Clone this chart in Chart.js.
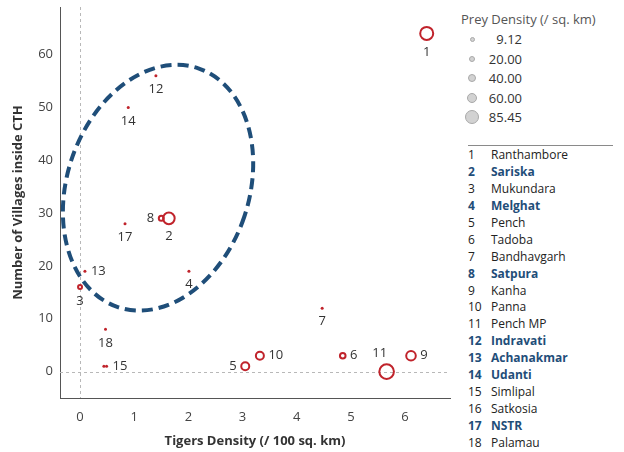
<!DOCTYPE html>
<html lang="en">
<head>
  <meta charset="UTF-8">
  <title>Tigers Density vs Villages inside CTH</title>
  <script src="https://cdn.jsdelivr.net/npm/chart.js"></script>
  <style>
    body {
      margin: 0;
      background: #fff;
      font-family: 'Open Sans', sans-serif;
    }
    .wrap {
      position: relative;
      width: 624px;
      height: 452px;
      overflow: hidden;
    }
    #chart {
      position: absolute;
      left: 0;
      top: 0;
    }
    .legend-title {
      position: absolute;
      left: 461px;
      top: 10px;
      font-size: 13px;
      line-height: 18px;
      color: #555;
      white-space: nowrap;
    }
    .size-dot {
      position: absolute;
      box-sizing: border-box;
      border-radius: 50%;
      background: #d2d2d2;
      border: 1px solid #a9a9a9;
    }
    .size-val {
      position: absolute;
      width: 60px;
      left: 462px;
      text-align: right;
      font-size: 13px;
      line-height: 18px;
      color: #333;
    }
    .rule {
      position: absolute;
      left: 468px;
      top: 145px;
      width: 145px;
      height: 1px;
      background: #8a8a8a;
    }
    .row {
      position: absolute;
      left: 468px;
      font-size: 12px;
      line-height: 16px;
      color: #222;
      white-space: nowrap;
    }
    .row span.num { display: inline-block; width: 23px; }
    .row.hl { color: #1f4e79; font-weight: bold; }
  </style>
</head>
<body>
  <div class="wrap" id="wrap">
    <canvas id="chart" width="455" height="452"></canvas>
    <div class="legend-title">Prey Density (/ sq. km)</div>
    <div class="rule"></div>
  </div>

  <script>
    // reserve numbers and names
    const ids = [1, 2, 3, 4, 5, 6, 7, 8, 9, 10, 11, 12, 13, 14, 15, 16, 17, 18];
    const names = ['Ranthambore', 'Sariska', 'Mukundara', 'Melghat', 'Pench', 'Tadoba',
      'Bandhavgarh', 'Satpura', 'Kanha', 'Panna', 'Pench MP', 'Indravati',
      'Achanakmar', 'Udanti', 'Simlipal', 'Satkosia', 'NSTR', 'Palamau'];
    const highlighted = [2, 4, 8, 12, 13, 14, 17];

    // values
    const tigerDensity = [6.40, 1.64, 0.00, 2.01, 3.05, 4.85, 4.47, 1.50, 6.11, 3.32, 5.66, 1.40, 0.09, 0.89, 0.49, 0.44, 0.83, 0.47];
    const villages = [64, 29, 16, 19, 1, 3, 12, 29, 3, 3, 0, 56, 19, 50, 1, 1, 28, 8];
    const preyDensity = [75.8, 67.3, 21.2, 12.5, 45.5, 30.9, 14.0, 27.3, 55.2, 45.5, 85.45, 9.12, 10.5, 9.5, 11.0, 9.8, 12.0, 10.0];

    const legendValues = [9.12, 20.00, 40.00, 60.00, 85.45];
    const xTicks = [0, 1, 2, 3, 4, 5, 6];
    const yTicks = [0, 10, 20, 30, 40, 50, 60];

    // where each number label sits relative to its mark
    const labelPos = ['below', 'below', 'below', 'below', 'left', 'right', 'below', 'left', 'right',
      'right', 'above', 'below', 'right', 'below', 'right', 'none', 'below', 'below'];

    const ringCenter = { x: 1.44, y: 34.8 };
    const RED = '#c0232b';
    const PMIN = 9.12, PMAX = 85.45;

    function radiusFor(v) {
      return Math.max(1.5, 1 + 6.3 * (v - PMIN) / (PMAX - PMIN));
    }

    Chart.defaults.font.family = "'Open Sans', sans-serif";
    Chart.defaults.font.size = 13;
    Chart.defaults.color = '#333';

    const extras = {
      id: 'extras',
      beforeDatasetsDraw(chart) {
        const { ctx, chartArea: a, scales: { x, y } } = chart;
        ctx.save();
        ctx.strokeStyle = '#b8b8b8';
        ctx.lineWidth = 1;
        ctx.setLineDash([3, 3]);
        const x0 = Math.round(x.getPixelForValue(0)) + 0.5;
        const y0 = Math.round(y.getPixelForValue(0)) + 0.5;
        ctx.beginPath();
        ctx.moveTo(x0, a.top);
        ctx.lineTo(x0, a.bottom);
        ctx.moveTo(a.left, y0);
        ctx.lineTo(a.right, y0);
        ctx.stroke();

        // dashed ellipse round the cluster
        ctx.setLineDash([11, 6]);
        ctx.lineWidth = 4;
        ctx.strokeStyle = '#1f4e79';
        ctx.beginPath();
        ctx.ellipse(x.getPixelForValue(ringCenter.x), y.getPixelForValue(ringCenter.y), 91, 126, 0.325, 0, Math.PI * 2);
        ctx.stroke();
        ctx.restore();
      },
      afterDatasetsDraw(chart) {
        const ctx = chart.ctx;
        const meta = chart.getDatasetMeta(0);
        ctx.save();
        ctx.font = "13px 'Open Sans', sans-serif";
        ctx.fillStyle = '#333';
        ctx.textBaseline = 'middle';
        meta.data.forEach((pt, i) => {
          const pos = labelPos[i];
          if (pos === 'none') return;
          const r = radiusFor(preyDensity[i]);
          let tx = pt.x, ty = pt.y;
          if (pos === 'below') { ctx.textAlign = 'center'; ty = pt.y + r + 12; }
          else if (pos === 'right') { ctx.textAlign = 'left'; tx = pt.x + r + 4.5; }
          else if (pos === 'left') { ctx.textAlign = 'right'; tx = pt.x - r - 4.5; }
          else if (pos === 'above') { ctx.textAlign = 'center'; tx = pt.x - 7; ty = pt.y - r - 11; }
          ctx.fillText(String(ids[i]), tx, ty);
        });
        ctx.restore();
      }
    };

    const points = tigerDensity.map((v, i) => ({ x: v, y: villages[i] }));

    new Chart(document.getElementById('chart'), {
      type: 'scatter',
      data: {
        datasets: [{
          data: points,
          pointRadius: c => radiusFor(preyDensity[c.dataIndex]),
          pointBorderWidth: c => radiusFor(preyDensity[c.dataIndex]) <= 1.6 ? 0 : 2,
          pointBorderColor: RED,
          pointBackgroundColor: c => radiusFor(preyDensity[c.dataIndex]) <= 1.6 ? RED : 'rgba(255,255,255,0)'
        }]
      },
      options: {
        responsive: false,
        devicePixelRatio: 1,
        animation: false,
        events: [],
        layout: { autoPadding: false, padding: { top: 7, right: 5, left: 0, bottom: 0 } },
        plugins: { legend: { display: false }, tooltip: { enabled: false } },
        scales: {
          x: {
            type: 'linear',
            min: -0.37,
            max: 6.83,
            grid: { display: false, drawTicks: false },
            border: { display: true, color: '#555', width: 1 },
            ticks: { color: '#444', padding: 11 },
            title: {
              display: true,
              text: 'Tigers Density (/ 100 sq. km)',
              color: '#333',
              font: { weight: 'bold', size: 13 },
              padding: { top: 4, bottom: 3 }
            },
            afterBuildTicks: s => { s.ticks = xTicks.map(v => ({ value: v })); },
            afterFit: s => {
              s.height = 54;
              s.paddingLeft = 0;
              s.paddingRight = 0;
            }
          },
          y: {
            type: 'linear',
            min: -5,
            max: 69,
            grid: { display: false, drawTicks: false },
            border: { display: true, color: '#555', width: 1 },
            ticks: { color: '#444', padding: 7 },
            title: {
              display: true,
              text: 'Number of Villages inside CTH',
              color: '#333',
              font: { weight: 'bold', size: 13 },
              padding: { top: 10, bottom: 4 }
            },
            afterBuildTicks: s => { s.ticks = yTicks.map(v => ({ value: v })); },
            afterFit: s => {
              s.width = 60;
              s.paddingTop = 0;
              s.paddingBottom = 0;
            }
          }
        }
      },
      plugins: [extras]
    });

    // size legend and reserve list
    const wrap = document.getElementById('wrap');
    const legendY = [39, 59, 78, 98, 117];
    legendValues.forEach((v, i) => {
      const r = 2.5 + 4.5 * (v - PMIN) / (PMAX - PMIN);
      const dot = document.createElement('div');
      dot.className = 'size-dot';
      dot.style.width = dot.style.height = (2 * r) + 'px';
      dot.style.left = (472 - r) + 'px';
      dot.style.top = (legendY[i] - r) + 'px';
      wrap.appendChild(dot);
      const lab = document.createElement('div');
      lab.className = 'size-val';
      lab.style.top = (legendY[i] - 9) + 'px';
      lab.textContent = v.toFixed(2);
      wrap.appendChild(lab);
    });

    names.forEach((n, i) => {
      const row = document.createElement('div');
      row.className = 'row' + (highlighted.includes(ids[i]) ? ' hl' : '');
      row.style.top = (155 + i * 16.94 - 8) + 'px';
      row.innerHTML = '<span class="num">' + ids[i] + '</span>' + n;
      wrap.appendChild(row);
    });
  </script>
</body>
</html>
